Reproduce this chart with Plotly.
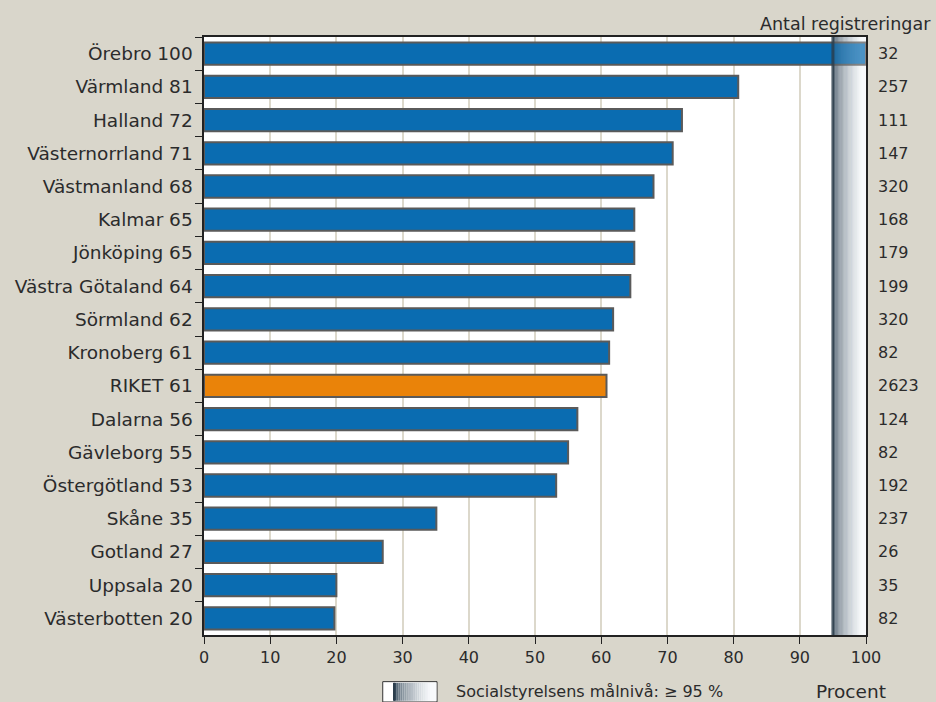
import plotly.graph_objects as go
import numpy as np

regions = ["Örebro", "Värmland", "Halland", "Västernorrland", "Västmanland", "Kalmar",
           "Jönköping", "Västra Götaland", "Sörmland", "Kronoberg", "RIKET", "Dalarna",
           "Gävleborg", "Östergötland", "Skåne", "Gotland", "Uppsala", "Västerbotten"]
values = [100, 80.7, 72.2, 70.8, 67.9, 65.0, 65.0, 64.4, 61.8, 61.2, 60.8, 56.4,
          55.0, 53.2, 35.1, 27.0, 20.0, 19.7]
label_values = [100, 81, 72, 71, 68, 65, 65, 64, 62, 61, 61, 56, 55, 53, 35, 27, 20, 20]
counts = [32, 257, 111, 147, 320, 168, 179, 199, 320, 82, 2623, 124, 82, 192, 237, 26, 35, 82]
target = 95
x_ticks = list(range(0, 101, 10))

labels = [f"{r} {v}" for r, v in zip(regions, label_values)]
BLUE = "#0a6cb1"
ORANGE = "#ea8309"
colors = [ORANGE if r == "RIKET" else BLUE for r in regions]
FONT = "DejaVu Sans"
TXT = "#2b2b2b"
BG = "#d9d6cb"

fig = go.Figure()
fig.add_trace(go.Bar(
    y=labels, x=values, orientation="h",
    marker=dict(color=colors, line=dict(color="#5a5a5a", width=2)),
    hoverinfo="skip", showlegend=False,
))

def grad_color(t):
    c0 = np.array([52, 72, 88])
    c1 = np.array([248, 250, 252])
    c = c0 + (c1 - c0) * min(1.0, t * 1.15) ** 0.55
    return "rgb(%d,%d,%d)" % tuple(c.astype(int))

shapes = []
n = 40
edges = np.linspace(target, 100, n + 1)
for layer, op in (("below", 1.0), ("above", 0.3)):
    for i in range(n):
        shapes.append(dict(type="rect", xref="x", yref="paper", x0=edges[i], x1=edges[i + 1],
                           y0=0, y1=1, fillcolor=grad_color(i / (n - 1)), line=dict(width=0),
                           layer=layer, opacity=op))
shapes.append(dict(type="line", xref="x", yref="paper", x0=target, x1=target, y0=0, y1=1,
                   line=dict(color="#2c3e4c", width=3), layer="above", opacity=0.8))

# legend swatch (bottom)
lx0, lx1, ly0, ly1 = 0.27, 0.352, -0.112, -0.078
shapes.append(dict(type="rect", xref="paper", yref="paper", x0=lx0, x1=lx1, y0=ly0, y1=ly1,
                   fillcolor="white", line=dict(color="#333", width=1)))
m = 20
sx0 = lx0 + 0.017
sedges = np.linspace(sx0, lx1 - 0.001, m + 1)
for i in range(m):
    shapes.append(dict(type="rect", xref="paper", yref="paper", x0=sedges[i], x1=sedges[i + 1],
                       y0=ly0 + 0.002, y1=ly1 - 0.002, fillcolor=grad_color(i / (m - 1)),
                       line=dict(width=0)))
shapes.append(dict(type="line", xref="paper", yref="paper", x0=sx0, x1=sx0, y0=ly0 + 0.002,
                   y1=ly1 - 0.002, line=dict(color="#2c3e4c", width=2)))

annotations = []
for lab, c in zip(labels, counts):
    annotations.append(dict(x=1.015, xref="paper", y=lab, yref="y", text=str(c),
                            showarrow=False, xanchor="left",
                            font=dict(family=FONT, size=16, color=TXT)))
annotations.append(dict(x=1.101, xref="paper", y=1.002, yref="paper", text="Antal registreringar",
                        showarrow=False, xanchor="right", yanchor="bottom",
                        font=dict(family=FONT, size=17.5, color=TXT)))
annotations.append(dict(x=0.377, xref="paper", y=-0.095, yref="paper",
                        text="Socialstyrelsens målnivå: ≥ 95 %", showarrow=False,
                        xanchor="left", yanchor="middle",
                        font=dict(family=FONT, size=16, color=TXT)))
annotations.append(dict(x=1.033, xref="paper", y=-0.095, yref="paper", text="Procent",
                        showarrow=False, xanchor="right", yanchor="middle",
                        font=dict(family=FONT, size=18.5, color=TXT)))

fig.update_layout(
    width=936, height=702,
    margin=dict(l=204, r=70, t=37, b=67),
    paper_bgcolor=BG, plot_bgcolor="white",
    bargap=0.33,
    font=dict(family=FONT, size=16, color=TXT),
    shapes=shapes, annotations=annotations,
    xaxis=dict(range=[0, 100], tickvals=x_ticks, ticks="outside", ticklen=7,
               tickcolor="#222", showline=True, linecolor="#222", linewidth=1.5,
               mirror=True, showgrid=True, gridcolor="#dcd8cb", gridwidth=2,
               zeroline=False, fixedrange=True, tickfont=dict(size=16)),
    yaxis=dict(autorange="reversed", ticks="outside", ticklen=7, tickcolor="#222",
               tickson="boundaries", showline=True, linecolor="#222", linewidth=1.5,
               mirror=True, showgrid=False, fixedrange=True, ticksuffix=" ",
               tickfont=dict(size=18.5)),
)

fig.write_html("out.html", config={"displayModeBar": False},
               post_script="document.body.style.margin='0';document.body.style.background='%s';" % BG)
